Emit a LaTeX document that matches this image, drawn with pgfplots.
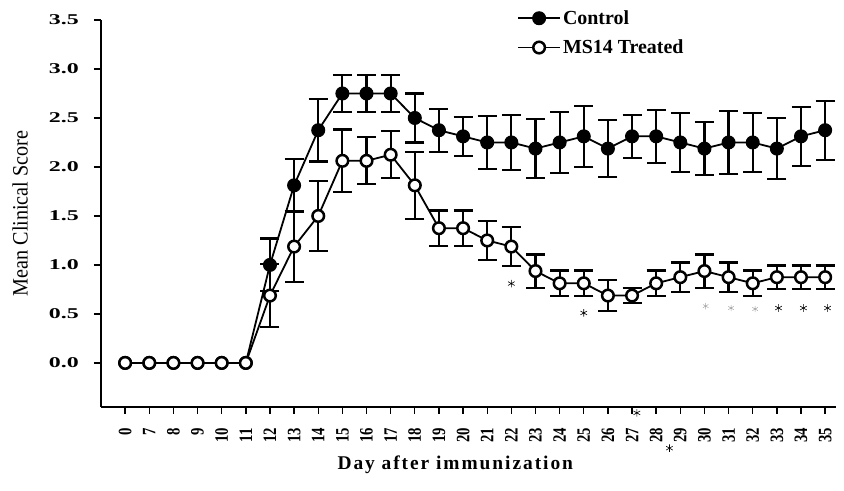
\documentclass[border=0pt]{standalone}
\usepackage{pgfplots}
\pgfplotsset{compat=1.18}
\usepackage{pgfplotstable}
\usepackage{fontspec}
\setmainfont{Liberation Serif}
\newfontfamily\ytickfont[FakeStretch=1.6]{Liberation Serif}
\newfontfamily\xtickfont[FakeStretch=0.78]{Liberation Serif}
\newfontfamily\ylabfont[FakeStretch=0.92]{Liberation Serif}
\newfontfamily\xlabfont[LetterSpace=10]{Liberation Serif}

\pgfplotstableread{
i day c ce m me
0 0 0 0 0 0
1 7 0 0 0 0
2 8 0 0 0 0
3 9 0 0 0 0
4 10 0 0 0 0
5 11 0 0 0 0
6 12 1.0 0.27 0.6875 0.32
7 13 1.8125 0.27 1.1875 0.36
8 14 2.375 0.32 1.5 0.36
9 15 2.75 0.19 2.0625 0.32
10 16 2.75 0.19 2.0625 0.24
11 17 2.75 0.19 2.125 0.24
12 18 2.5 0.25 1.8125 0.34
13 19 2.375 0.22 1.375 0.18
14 20 2.3125 0.20 1.375 0.18
15 21 2.25 0.27 1.25 0.20
16 22 2.25 0.28 1.1875 0.20
17 23 2.1875 0.30 0.9375 0.17
18 24 2.25 0.31 0.8125 0.13
19 25 2.3125 0.31 0.8125 0.13
20 26 2.1875 0.29 0.6875 0.16
21 27 2.3125 0.22 0.6875 0.08
22 28 2.3125 0.27 0.8125 0.13
23 29 2.25 0.30 0.875 0.15
24 30 2.1875 0.27 0.9375 0.17
25 31 2.25 0.32 0.875 0.15
26 32 2.25 0.30 0.8125 0.13
27 33 2.1875 0.31 0.875 0.12
28 34 2.3125 0.30 0.875 0.12
29 35 2.375 0.30 0.875 0.12
}\data

\begin{document}
\begin{tikzpicture}
\useasboundingbox (0bp,0bp) rectangle (844bp,491bp);
\begin{axis}[
  at={(101bp,84bp)}, anchor=south west,
  scale only axis, width=735bp, height=387bp,
  xmin=-1, xmax=29.45, ymin=-0.45, ymax=3.5,
  clip=false,
  axis x line*=bottom, axis y line*=left,
  axis line style={line width=1.6bp},
  tick align=outside,
  major tick length=7bp,
  tick style={line width=1.4bp, black},
  xtick={0,...,29},
  xticklabels={0,7,8,9,10,11,12,13,14,15,16,17,18,19,20,21,22,23,24,25,26,27,28,29,30,31,32,33,34,35},
  xticklabel style={rotate=90, anchor=east, inner sep=0pt, xshift=-14bp, font=\xtickfont\bfseries\fontsize{19}{19}\selectfont},
  ytick={0,0.5,...,3.5},
  /pgf/number format/assume math mode=true,
  yticklabel={\pgfmathprintnumber[fixed,fixed zerofill,precision=1]{\tick}},
  yticklabel style={inner sep=0pt, xshift=-15bp, font=\ytickfont\bfseries\fontsize{15}{15}\selectfont},
  xlabel={\xlabfont\bfseries Day after immunization},
  xlabel style={at={(axis description cs:0.482,0)}, anchor=center, yshift=-58bp, font=\fontsize{19.5}{20}\selectfont},
  ylabel={\ylabfont Mean Clinical Score},
  ylabel style={at={(axis description cs:-0.110,0.5)}, anchor=center, font=\fontsize{22}{22}\selectfont},
  legend style={at={(axis description cs:0.566,1.03)}, anchor=north west, draw=none, fill=none,
    font=\bfseries\fontsize{20}{20}\selectfont, row sep=10bp, inner sep=0pt, cells={anchor=west, inner xsep=10bp}},
  legend image code/.code={\draw[mark repeat=2,mark phase=2,#1] plot coordinates {(0bp,0bp)(21bp,0bp)(42bp,0bp)};},
]
% control error bars
\addplot[forget plot, draw=none, mark=none,
  error bars/.cd, y dir=both, y explicit,
  error bar style={draw=black, line width=2.2bp},
  error mark options={draw=black, rotate=90, mark size=9.5bp, line width=2.2bp}]
  table[x=i, y=c, y error=ce, skip coords between index={0}{6}] {\data};
\addplot[black, line width=1.8bp, mark=*, mark size=6.5bp, mark options={fill=black, draw=black, line width=1bp}]
  table[x=i, y=c] {\data};
\addlegendentry{Control}
% MS14 error bars
\addplot[forget plot, draw=none, mark=none,
  error bars/.cd, y dir=both, y explicit,
  error bar style={draw=black, line width=2.2bp},
  error mark options={draw=black, rotate=90, mark size=9.5bp, line width=2.2bp}]
  table[x=i, y=m, y error=me, skip coords between index={0}{6}] {\data};
\addplot[black, line width=1.8bp, mark=*, mark size=5.8bp, mark options={fill=white, draw=black, line width=2.5bp}]
  table[x=i, y=m] {\data};
\addlegendentry{MS14 Treated}
% significance asterisks
\addplot[forget plot, only marks, mark=asterisk, mark size=3.8bp, mark options={line width=0.6bp, draw=black}]
  coordinates {(16,0.81) (19,0.51) (21.2,-0.51) (22.55,-0.87) (27.07,0.56) (28.1,0.56) (29.1,0.56)};
\addplot[forget plot, only marks, mark=asterisk, mark size=3.2bp, mark options={line width=0.5bp, draw=gray!70}]
  coordinates {(24.05,0.58) (25.1,0.56) (26.1,0.55)};
\end{axis}
\end{tikzpicture}
\end{document}
